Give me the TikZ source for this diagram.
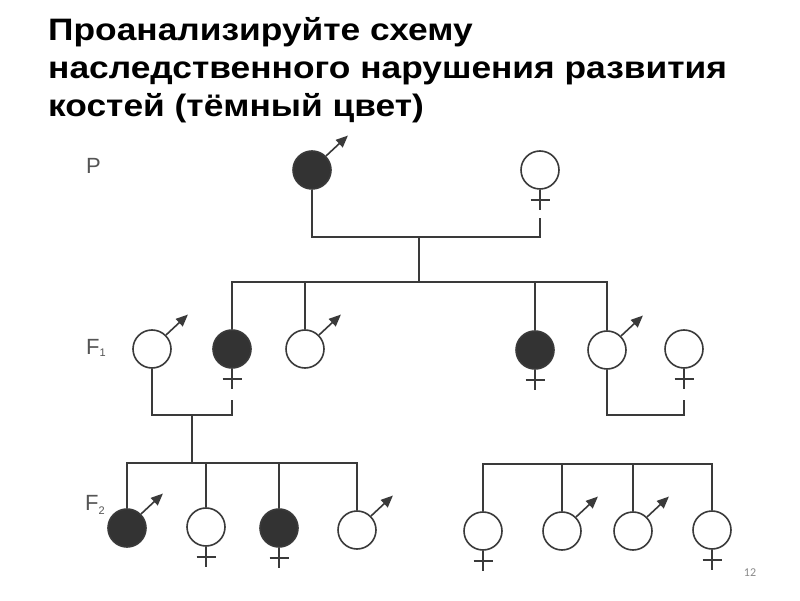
\documentclass[tikz,border=0pt]{standalone}
\usepackage{fontspec}
\setmainfont{Liberation Sans}
\newfontfamily\titlefont[FakeStretch=1.14]{Liberation Sans}
\newfontfamily\numfont{Carlito}
\usetikzlibrary{arrows.meta}
\definecolor{PedLine} {HTML}{3A3A3A}
\definecolor{PedDark} {HTML}{333333}
\definecolor{PedLabel}{HTML}{555555}
\definecolor{PedNum}  {HTML}{8A8A8A}
\tikzset{
  ind/.style={circle,draw=PedLine,line width=1.6pt,minimum size=38pt,inner sep=0pt,fill=white},
  sick/.style={ind,fill=PedDark},
  link/.style={draw=PedLine,line width=1.6pt},
  gen/.style={font=\fontsize{22}{22}\selectfont,text=PedLabel,anchor=base west,inner sep=0pt},
  titleline/.style={font=\titlefont\fontsize{31}{36}\selectfont\bfseries,anchor=base west,inner sep=0pt},
}
\begin{document}
\begin{tikzpicture}[x=1pt,y=1pt]
    \useasboundingbox (0,0) rectangle (800,600);
    \fill[white] (0,0) rectangle (800,600);
    % Title
    \node[titleline] (t1) at (48,559) {Проанализируйте схему};
    \node[titleline] (t2) at (48,521) {наследственного нарушения развития};
    \node[titleline] (t3) at (48,483) {костей (тёмный цвет)};

    % Generation labels
    \node[gen] (gp) at (86,426) {P};
    \node[gen] (g1) at (86,245) {F\raisebox{-2pt}{\fontsize{11}{11}\selectfont 1}};
    \node[gen] (g2) at (85,90)  {F\raisebox{-4pt}{\fontsize{11}{11}\selectfont 2}};

    % P
    \node[sick] (pm) at (312,430) {};
    \node[ind]  (pf) at (540,430) {};

    % F1
    \node[ind]  (a1) at (152,251) {};
    \node[sick] (a2) at (232,251) {};
    \node[ind]  (a3) at (305,251) {};
    \node[sick] (a4) at (535,250) {};
    \node[ind]  (a5) at (607,250) {};
    \node[ind]  (a6) at (684,251) {};

    % F2, left family
    \node[sick] (b1) at (127,72) {};
    \node[ind]  (b2) at (206,73) {};
    \node[sick] (b3) at (279,72) {};
    \node[ind]  (b4) at (357,70) {};

    % F2, right family
    \node[ind]  (c1) at (483,69) {};
    \node[ind]  (c2) at (562,69) {};
    \node[ind]  (c3) at (633,69) {};
    \node[ind]  (c4) at (712,70) {};

    % sex signs
    \foreach \n in {pm,a1,a3,a5,b1,b4,c2,c3}
      \draw[link,-{Triangle[length=12pt,width=10pt]}] (\n.45) -- ++(43:30);
    \foreach \n in {pf,a2,a4,a6,b2,b3,c1,c4}
      \draw[link] (\n.south) -- ++(0,-20) (\n.south) ++(-9.5,-10) -- ++(19,0);

    % connectors
    \coordinate (pfl)   at (540,382);
    \coordinate (pmate) at (419,363);
    \coordinate (f1bar) at (419,318);
    \coordinate (a2l)   at (232,200);
    \coordinate (a6l)   at (684,200);
    \coordinate (lmate) at (192,185);
    \coordinate (lkids) at (192,137);
    \coordinate (ckids) at (597,136);

    \draw[link] (pm.south) |- (pmate) -| (pfl);
    \draw[link] (pmate) -- (f1bar);
    \draw[link] (a2.north) |- (f1bar) -| (a5.north);
    \draw[link] (a3.north) -- (a3 |- f1bar);
    \draw[link] (a4.north) -- (a4 |- f1bar);

    \draw[link] (a1.south) |- (lmate) -| (a2l);
    \draw[link] (lmate) -- (lkids);
    \draw[link] (a5.south) |- (a6l |- lmate) -- (a6l);

    \draw[link] (b1.north) |- (lkids) -| (b4.north);
    \draw[link] (b2.north) -- (b2 |- lkids);
    \draw[link] (b3.north) -- (b3 |- lkids);

    \draw[link] (c1.north) |- (ckids) -| (c4.north);
    \draw[link] (c2.north) -- (c2 |- ckids);
    \draw[link] (c3.north) -- (c3 |- ckids);

    % page number
    \node[font=\numfont\fontsize{12}{12}\selectfont,text=PedNum] (pg) at (750,27) {12};
\end{tikzpicture}
\end{document}
